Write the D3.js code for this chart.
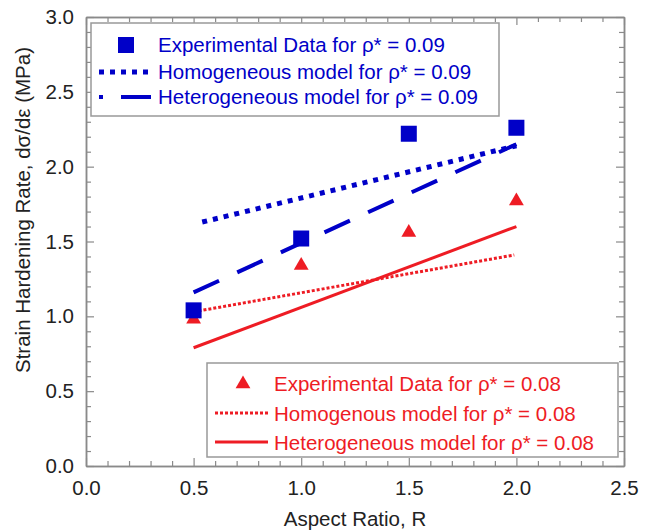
<!DOCTYPE html>
<html>
<head>
<meta charset="utf-8">
<style>
  body { margin: 0; background: #fff; }
  svg text { font-family: "Liberation Sans", Arial, sans-serif; }
</style>
</head>
<body>
<svg id="chart" width="652" height="531"></svg>
<script src="https://d3js.org/d3.v7.min.js"></script>
<script>
// experimental points
const aspectRatios = [0.5, 1.0, 1.5, 2.0];
const exp009 = [1.04, 1.52, 2.22, 2.26];
const exp008 = [0.98, 1.34, 1.56, 1.77];

// model lines (end points)
const homo009X = [0.54, 2.0];
const homo009Y = [1.63, 2.14];
const hetero009X = [0.5, 2.0];
const hetero009Y = [1.16, 2.15];
const homo008X = [0.5, 1.99];
const homo008Y = [1.03, 1.41];
const hetero008X = [0.5, 2.0];
const hetero008Y = [0.79, 1.60];

const xTicks = [0.0, 0.5, 1.0, 1.5, 2.0, 2.5];
const yTicks = [0.0, 0.5, 1.0, 1.5, 2.0, 2.5, 3.0];

const blue = "#0000c8";
const red = "#ee1c24";
const frameCol = "#8a8a8a";
const fs = "20.5px";

const svg = d3.select("#chart");
const margin = { top: 17, right: 28, bottom: 65, left: 86 },
      width = 652 - margin.left - margin.right,
      height = 531 - margin.top - margin.bottom;

const x = d3.scaleLinear().domain([0, 2.5]).range([0, width]);
const y = d3.scaleLinear().domain([0, 3]).range([height, 0]);

const g = svg.append("g").attr("transform", `translate(${margin.left},${margin.top})`);

// minor ticks every 0.1
const xMinor = d3.range(0, 25.01, 1).map(d => d / 10).filter(d => Math.round(d * 10) % 5 !== 0);
const yMinor = d3.range(0, 30.01, 1).map(d => d / 10).filter(d => Math.round(d * 10) % 5 !== 0);

function styleAxis(sel) {
  sel.select(".domain").attr("stroke", frameCol).attr("stroke-width", 1.5);
  sel.selectAll(".tick line").attr("stroke", frameCol).attr("stroke-width", 1.2);
  sel.selectAll(".tick text").attr("fill", "#222").style("font-size", fs);
}

// bottom
g.append("g").attr("transform", `translate(0,${height})`)
  .call(d3.axisBottom(x).tickValues(xTicks).tickFormat(d3.format(".1f")).tickSizeInner(-8).tickSizeOuter(0).tickPadding(14))
  .call(styleAxis);
g.append("g").attr("transform", `translate(0,${height})`)
  .call(d3.axisBottom(x).tickValues(xMinor).tickFormat("").tickSizeInner(-5).tickSizeOuter(0))
  .call(styleAxis);
// top
g.append("g")
  .call(d3.axisTop(x).tickValues(xTicks).tickFormat("").tickSizeInner(-8).tickSizeOuter(0))
  .call(styleAxis);
g.append("g")
  .call(d3.axisTop(x).tickValues(xMinor).tickFormat("").tickSizeInner(-5).tickSizeOuter(0))
  .call(styleAxis);
// left
g.append("g")
  .call(d3.axisLeft(y).tickValues(yTicks).tickFormat(d3.format(".1f")).tickSizeInner(-8).tickSizeOuter(0).tickPadding(12))
  .call(styleAxis);
g.append("g")
  .call(d3.axisLeft(y).tickValues(yMinor).tickFormat("").tickSizeInner(-5).tickSizeOuter(0))
  .call(styleAxis);
// right
g.append("g").attr("transform", `translate(${width},0)`)
  .call(d3.axisRight(y).tickValues(yTicks).tickFormat("").tickSizeInner(-8).tickSizeOuter(0))
  .call(styleAxis);
g.append("g").attr("transform", `translate(${width},0)`)
  .call(d3.axisRight(y).tickValues(yMinor).tickFormat("").tickSizeInner(-5).tickSizeOuter(0))
  .call(styleAxis);

// axis titles
svg.append("text")
  .attr("x", margin.left + width / 2).attr("y", 526)
  .attr("text-anchor", "middle").attr("fill", "#222").style("font-size", fs)
  .text("Aspect Ratio, R");
svg.append("text")
  .attr("transform", `translate(30,210) rotate(-90)`)
  .attr("text-anchor", "middle").attr("fill", "#222").style("font-size", fs)
  .text("Strain Hardening Rate, d\u03c3/d\u03b5 (MPa)");

// model lines
const line = d3.line().x(d => x(d[0])).y(d => y(d[1]));
function drawLine(xs, ys, color, w, dash) {
  g.append("path")
    .datum(d3.zip(xs, ys))
    .attr("d", line)
    .attr("fill", "none")
    .attr("stroke", color)
    .attr("stroke-width", w)
    .attr("stroke-dasharray", dash);
}
drawLine(homo009X, homo009Y, blue, 5, "5,6");
drawLine(hetero009X, hetero009Y, blue, 4, "28,20");
drawLine(homo008X, homo008Y, red, 3, "3,2");
drawLine(hetero008X, hetero008Y, red, 3, null);

// triangles first, squares on top
const tri = d3.symbol().type(d3.symbolTriangle).size(95);
g.selectAll(".tri")
  .data(d3.zip(aspectRatios, exp008))
  .enter().append("path")
  .attr("class", "tri")
  .attr("d", tri)
  .attr("transform", d => `translate(${x(d[0])},${y(d[1])})`)
  .attr("fill", red);

g.selectAll(".sq")
  .data(d3.zip(aspectRatios, exp009))
  .enter().append("rect")
  .attr("class", "sq")
  .attr("x", d => x(d[0]) - 8)
  .attr("y", d => y(d[1]) - 8)
  .attr("width", 16).attr("height", 16)
  .attr("fill", blue);

// legends
function legendBox(x0, y0, w, h) {
  svg.append("rect")
    .attr("x", x0).attr("y", y0).attr("width", w).attr("height", h)
    .attr("fill", "#fff").attr("stroke", "#999").attr("stroke-width", 1.5);
}
function legendText(x0, y0, color, txt) {
  svg.append("text")
    .attr("x", x0).attr("y", y0).attr("dy", "0.35em")
    .attr("fill", color).style("font-size", fs)
    .text(txt);
}
function legendLine(x1, x2, yy, color, w, dash, offset) {
  svg.append("line")
    .attr("x1", x1).attr("x2", x2).attr("y1", yy).attr("y2", yy)
    .attr("stroke", color).attr("stroke-width", w)
    .attr("stroke-dasharray", dash)
    .attr("stroke-dashoffset", offset || 0);
}

legendBox(91, 23, 408, 93);
svg.append("rect").attr("x", 118).attr("y", 37).attr("width", 16).attr("height", 16).attr("fill", blue);
legendText(158, 45, blue, "Experimental Data for \u03c1* = 0.09");
legendLine(99, 153, 72, blue, 5, "5,6");
legendText(158, 72, blue, "Homogeneous model for \u03c1* = 0.09");
legendLine(99, 153, 97, blue, 4, "4,18,30,20");
legendText(158, 97, blue, "Heterogeneous model for \u03c1* = 0.09");

legendBox(207, 363, 411, 94);
svg.append("path").attr("d", tri).attr("transform", "translate(243,384)").attr("fill", red);
legendText(274, 384, red, "Experimental Data for \u03c1* = 0.08");
legendLine(215, 268, 413, red, 3, "3,2");
legendText(274, 414, red, "Homogenous model for \u03c1* = 0.08");
legendLine(215, 268, 442, red, 3, null);
legendText(274, 443, red, "Heterogeneous model for \u03c1* = 0.08");
</script>
</body>
</html>
